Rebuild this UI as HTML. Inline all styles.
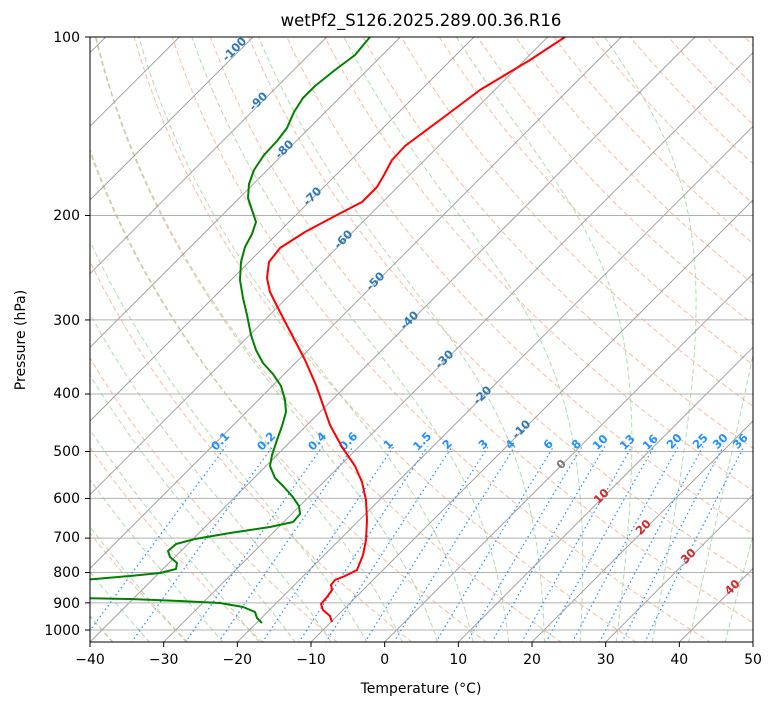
<!DOCTYPE html>
<html><head><meta charset="utf-8"><style>
body{margin:0;background:#fff;width:775px;height:708px;overflow:hidden;font-family:"Liberation Sans","DejaVu Sans",sans-serif;}
svg{position:absolute;left:0;top:0}
.t{font-family:"DejaVu Sans","Liberation Sans",sans-serif;}
.il{font-size:11.5px;font-weight:bold;fill:#2f78b8}
.ml{font-size:11.5px;font-weight:bold;fill:#1e90ff}
.rl{font-size:11.5px;font-weight:bold;fill:#d62728}
.tk{font-size:14px;fill:#000}
</style></head><body>
<svg id="s" width="775" height="708" xmlns="http://www.w3.org/2000/svg">
<defs><clipPath id="c"><rect x="90" y="37" width="663" height="605"/></clipPath></defs>
<g id="bg" clip-path="url(#c)"></g>
<g clip-path="url(#c)" class="t">
<text class="il" transform="translate(237,52) rotate(-45)" text-anchor="middle">-100</text>
<text class="il" transform="translate(261,104) rotate(-45)" text-anchor="middle">-90</text>
<text class="il" transform="translate(287,152) rotate(-45)" text-anchor="middle">-80</text>
<text class="il" transform="translate(315,199) rotate(-45)" text-anchor="middle">-70</text>
<text class="il" transform="translate(346,242) rotate(-45)" text-anchor="middle">-60</text>
<text class="il" transform="translate(378,284) rotate(-45)" text-anchor="middle">-50</text>
<text class="il" transform="translate(412,323) rotate(-45)" text-anchor="middle">-40</text>
<text class="il" transform="translate(447,362) rotate(-45)" text-anchor="middle">-30</text>
<text class="il" transform="translate(485,398) rotate(-45)" text-anchor="middle">-20</text>
<text class="il" transform="translate(524,432) rotate(-45)" text-anchor="middle">-10</text>
<text class="il" style="fill:#777" transform="translate(564,467) rotate(-45)" text-anchor="middle">0</text>
<text class="rl" transform="translate(604,499) rotate(-45)" text-anchor="middle">10</text>
<text class="rl" transform="translate(646,530) rotate(-45)" text-anchor="middle">20</text>
<text class="rl" transform="translate(691,559) rotate(-45)" text-anchor="middle">30</text>
<text class="rl" transform="translate(735,590) rotate(-45)" text-anchor="middle">40</text>
<text class="ml" transform="translate(223,444) rotate(-45)" text-anchor="middle">0.1</text>
<text class="ml" transform="translate(269,444) rotate(-45)" text-anchor="middle">0.2</text>
<text class="ml" transform="translate(320,444) rotate(-45)" text-anchor="middle">0.4</text>
<text class="ml" transform="translate(351,444) rotate(-45)" text-anchor="middle">0.6</text>
<text class="ml" transform="translate(391,447) rotate(-45)" text-anchor="middle">1</text>
<text class="ml" transform="translate(425,444) rotate(-45)" text-anchor="middle">1.5</text>
<text class="ml" transform="translate(450,447) rotate(-45)" text-anchor="middle">2</text>
<text class="ml" transform="translate(486,447) rotate(-45)" text-anchor="middle">3</text>
<text class="ml" transform="translate(513,447) rotate(-45)" text-anchor="middle">4</text>
<text class="ml" transform="translate(551,447) rotate(-45)" text-anchor="middle">6</text>
<text class="ml" transform="translate(579,447) rotate(-45)" text-anchor="middle">8</text>
<text class="ml" transform="translate(603,445) rotate(-45)" text-anchor="middle">10</text>
<text class="ml" transform="translate(630,445) rotate(-45)" text-anchor="middle">13</text>
<text class="ml" transform="translate(653,445) rotate(-45)" text-anchor="middle">16</text>
<text class="ml" transform="translate(677,444) rotate(-45)" text-anchor="middle">20</text>
<text class="ml" transform="translate(703,444) rotate(-45)" text-anchor="middle">25</text>
<text class="ml" transform="translate(723,444) rotate(-45)" text-anchor="middle">30</text>
<text class="ml" transform="translate(743,444) rotate(-45)" text-anchor="middle">36</text>
</g>
<g clip-path="url(#c)" fill="none" stroke-width="2" stroke-linejoin="round">
<path stroke="#ff0000" d="M565,37 L530,60 L480,90 L440,120 L405,146 L392,160 L384,175 L377,187 L362,202 L335,216 L305,232 L280,248 L269,262 L267,278 L270,292 L280,312 L292,335 L305,360 L316,385 L323,405 L330,425 L342,447 L355,466 L362,482 L366,500 L367,520 L366,540 L363,555 L357,570 L345,576 L335,580 L331,585 L332,590 L327,597 L321,604 L323,610 L330,616 L332,622"/>
<path stroke="#008000" d="M370,37 L355,55 L335,70 L315,86 L303,98 L294,112 L287,128 L277,141 L264,155 L254,170 L249,184 L248,198 L252,210 L256,222 L252,234 L245,247 L241,262 L240,280 L243,298 L247,315 L251,335 L256,350 L263,363 L273,374 L281,386 L285,400 L286,412 L282,426 L277,440 L272,455 L270,466 L275,478 L284,487 L292,496 L299,506 L300,514 L293,522 L270,527 L230,533 L195,539 L176,544 L168,551 L170,557 L177,563 L176,569 L160,573 L130,576 L95,579 L80,580"/>
<path stroke="#008000" d="M80,598 L130,599 L180,601 L220,603 L243,607 L255,612 L257,618 L262,623"/>
</g>
<rect x="90" y="37" width="663" height="605" fill="none" stroke="#000" stroke-width="1"/>
<g id="ticks" stroke="#000" stroke-width="1"></g>
<g class="t tk">
<text x="90" y="664" text-anchor="middle">−40</text>
<text x="163.7" y="664" text-anchor="middle">−30</text>
<text x="237.3" y="664" text-anchor="middle">−20</text>
<text x="311" y="664" text-anchor="middle">−10</text>
<text x="384.7" y="664" text-anchor="middle">0</text>
<text x="458.3" y="664" text-anchor="middle">10</text>
<text x="532" y="664" text-anchor="middle">20</text>
<text x="605.7" y="664" text-anchor="middle">30</text>
<text x="679.3" y="664" text-anchor="middle">40</text>
<text x="753" y="664" text-anchor="middle">50</text>
<text x="80" y="42" text-anchor="end">100</text>
<text x="80" y="220" text-anchor="end">200</text>
<text x="80" y="325" text-anchor="end">300</text>
<text x="80" y="398" text-anchor="end">400</text>
<text x="80" y="456" text-anchor="end">500</text>
<text x="80" y="503" text-anchor="end">600</text>
<text x="80" y="542" text-anchor="end">700</text>
<text x="80" y="577" text-anchor="end">800</text>
<text x="80" y="608" text-anchor="end">900</text>
<text x="80" y="635" text-anchor="end">1000</text>
<text x="421" y="693" text-anchor="middle">Temperature (°C)</text>
<text transform="translate(25,340) rotate(-90)" text-anchor="middle">Pressure (hPa)</text>
<text x="421" y="26" text-anchor="middle" style="font-size:16.5px">wetPf2_S126.2025.289.00.36.R16</text>
</g>
</svg>
<script>
(function(){
var NS="http://www.w3.org/2000/svg";
function Y(p){return 37+593*Math.log10(p/100);}
function X(T,p){return 90+(T+40)*7.3667+(642-Y(p));}
var bg=document.getElementById('bg');
function path(pts,st,w,da,op){var d="";pts.forEach(function(q,i){d+=(i?"L":"M")+q[0].toFixed(1)+","+q[1].toFixed(1);});
var e=document.createElementNS(NS,"path");e.setAttribute("d",d);e.setAttribute("fill","none");e.setAttribute("stroke",st);
e.setAttribute("stroke-width",w);if(da)e.setAttribute("stroke-dasharray",da);if(op)e.setAttribute("stroke-opacity",op);bg.appendChild(e);}
var ps=[];for(var p=1050;p>=95;p-=5)ps.push(p);
for(var t=-40;t<=200;t+=10){var th=t+273.15;path(ps.map(function(p){return [X(th*Math.pow(p/1000,0.2857)-273.15,p),Y(p)];}),"#f4a582",1,"5,3",0.75);}
function es(T){return 6.112*Math.exp(17.67*T/(T+243.5));}
function dTdp(T,p){var Tk=T+273.15;var rs=0.622*es(T)/(p-es(T));var Lv=2.501e6,Rd=287.04,Cp=1005.7;
return (1/p)*(Rd*Tk+Lv*rs)/(Cp+Lv*Lv*rs*0.622/(Rd*Tk*Tk));}
for(var t0=-40;t0<=50;t0+=5){var pts=[];var T=t0,p=1000;
var down=[];var T2=t0;for(var q=1000;q<1050;q+=5){T2+=dTdp(T2,q)*5;down.push([X(T2,q+5),Y(q+5)]);}
down.reverse().forEach(function(a){pts.push(a);});pts.push([X(T,p),Y(p)]);
while(p>100){var h=-2;var k1=dTdp(T,p),k2=dTdp(T+k1*h/2,p+h/2),k3=dTdp(T+k2*h/2,p+h/2),k4=dTdp(T+k3*h,p+h);
T+=h*(k1+2*k2+2*k3+k4)/6;p+=h;if(T<-150)break;if(p%10==0)pts.push([X(T,p),Y(p)]);}
path(pts,"#8fcc8f",1,"5,3",0.7);}
for(var t=-140;t<=50;t+=10){path([[X(t,1050),Y(1050)],[X(t,100),Y(100)]],"#999",1,null,0.9);}
[100,200,300,400,500,600,700,800,900,1000].forEach(function(p){path([[90,Y(p)],[753,Y(p)]],"#b0b0b0",1);});
[0.1,0.2,0.4,0.6,1,1.5,2,3,4,6,8,10,13,16,20,25,30,36].forEach(function(w){var pts=[];
for(var p=1050;p>=490;p-=10){var e=p*w/(622+w);var l=Math.log(e/6.112);var Td=243.5*l/(17.67-l);pts.push([X(Td,p),Y(p)]);}
path(pts,"#1e90ff",1.2,"1.5,3");});
var tk=document.getElementById('ticks');
function ln(x1,y1,x2,y2){var e=document.createElementNS(NS,"line");e.setAttribute("x1",x1);e.setAttribute("y1",y1);e.setAttribute("x2",x2);e.setAttribute("y2",y2);tk.appendChild(e);}
for(var i=0;i<10;i++){var x=90+73.667*i;ln(x,642,x,647);}
[100,200,300,400,500,600,700,800,900,1000].forEach(function(p){ln(85,Y(p),90,Y(p));});
})();
</script>
</body></html>
